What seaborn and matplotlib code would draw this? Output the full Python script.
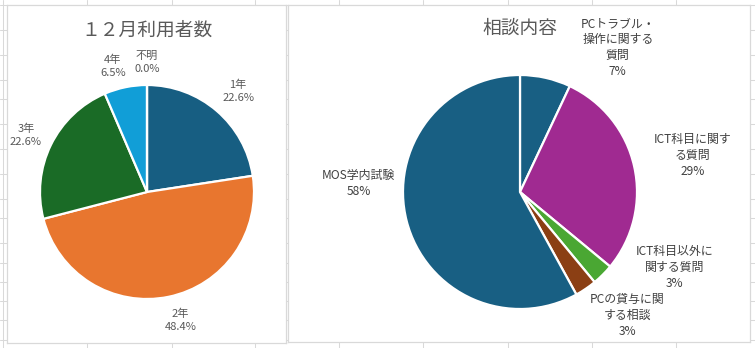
import numpy as np
import matplotlib
matplotlib.use("Agg")
import matplotlib.pyplot as plt
from matplotlib.lines import Line2D
import seaborn as sns

# ---- data -------------------------------------------------------------
grade_labels = ["1年", "2年", "3年", "4年", "不明"]
grade_counts = [7, 15, 7, 2, 0]
grade_colors = ["#175e82", "#e8762f", "#1a6b26", "#119ed7", "#7f7f7f"]

topic_labels = ["PCトラブル・\n操作に関する\n質問", "ICT科目に関す\nる質問",
                "ICT科目以外に\n関する質問", "PCの貸与に関\nする相談", "MOS学内試験"]
topic_share = [7, 29, 3, 3, 58]
topic_colors = ["#185f83", "#a02a91", "#4aa733", "#8b3f14", "#185f83"]

# label layout (radial distance in pie radii, angular nudge in degrees)
grade_label_r = [1.27, 1.24, 1.25, 1.22, 1.21]
grade_label_shift = [-1.5, 3.0, 1.0, 3.5, 0.0]
topic_label_r = [1.49, 1.51, 1.47, 1.40, 1.38]
topic_label_shift = [-21.5, -0.8, 19.0, 6.8, -17.5]

sns.set_theme(style="white")
plt.rcParams["font.family"] = ["Noto Sans CJK JP", "DejaVu Sans"]

W, H = 755, 348
fig = plt.figure(figsize=(W / 100, H / 100), dpi=100)
fig.patch.set_facecolor("white")

grid_c = "#d9d9d9"
for x in [3, 87, 172, 255, 339, 423, 508, 592, 676]:
    fig.add_artist(Line2D([x / W, x / W], [0, 1], color=grid_c, lw=0.75, zorder=-5))
for y in [5, 30, 55, 80, 99, 124, 149, 174, 199, 218, 243, 263, 282, 301, 320, 340]:
    fig.add_artist(Line2D([0, 1], [1 - y / H, 1 - y / H], color=grid_c, lw=0.75, zorder=-5))


def panel(x0, y0, x1, y1):
    ax = fig.add_axes([x0 / W, 1 - y1 / H, (x1 - x0) / W, (y1 - y0) / H])
    ax.set_facecolor("white")
    return ax


def finish(ax, x0, y0, x1, y1, cx, cy, r):
    ax.set_xlim((x0 - cx) / r, (x1 - cx) / r)
    ax.set_ylim(-(y1 - cy) / r, (cy - y0) / r)
    ax.set_aspect("auto")
    ax.set_xticks([])
    ax.set_yticks([])
    for s in ax.spines.values():
        s.set_visible(True)
        s.set_color(grid_c)
        s.set_linewidth(0.9)


def draw_pie(ax, values, colors, texts, radii, shifts, color, size, ls):
    wedges, _ = ax.pie(values, colors=colors, startangle=90, counterclock=False,
                       radius=1.0, frame=True,
                       wedgeprops=dict(edgecolor="white", linewidth=1.6))
    for w, t, rr, sh in zip(wedges, texts, radii, shifts):
        mid = np.deg2rad((w.theta1 + w.theta2) / 2 + sh)
        ax.text(rr * np.cos(mid), rr * np.sin(mid), t, ha="center", va="center",
                multialignment="center", color=color, fontsize=size,
                linespacing=ls)


total_g = sum(grade_counts)
grade_texts = [f"{lab}\n{100 * c / total_g:.1f}%" for lab, c in zip(grade_labels, grade_counts)]
total_t = sum(topic_share)
topic_texts = [f"{lab}\n{100 * c / total_t:.0f}%" for lab, c in zip(topic_labels, topic_share)]

# left: monthly users by grade
ax1 = panel(7, 5, 286, 343)
draw_pie(ax1, grade_counts, grade_colors, grade_texts, grade_label_r,
         grade_label_shift, "#595959", 8.0, 1.35)
finish(ax1, 7, 5, 286, 343, 147, 192, 107)
ax1.text(0.502, 0.926, "１２月利用者数", transform=ax1.transAxes, ha="center",
         va="center", color="#595959", fontsize=13.5)

# right: consultation topics
ax2 = panel(288, 5, 750, 342)
draw_pie(ax2, topic_share, topic_colors, topic_texts, topic_label_r,
         topic_label_shift, "#404040", 8.6, 1.3)
finish(ax2, 288, 5, 750, 342, 520, 192, 117)
ax2.text((520 - 288) / 462, 1 - (28 - 5) / 337, "相談内容", transform=ax2.transAxes,
         ha="center", va="center", color="#595959", fontsize=13.5)

fig.savefig("out.png", dpi=100, facecolor="white")
